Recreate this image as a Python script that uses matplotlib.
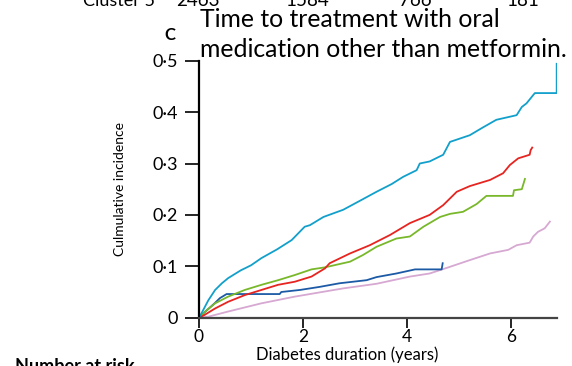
import matplotlib
matplotlib.use("Agg")
import matplotlib.pyplot as plt
import matplotlib.transforms as mtransforms

plt.rcParams['font.family'] = ['Lato', 'DejaVu Sans']

# ---- data ----
cyan_x = [0, 0.05, 0.18, 0.31, 0.44, 0.56, 0.8, 1.0, 1.2, 1.5, 1.78, 2.03, 2.13, 2.39, 2.77, 3.1,
          3.41, 3.7, 3.92, 4.18, 4.24, 4.43, 4.69, 4.82, 5.2, 5.45, 5.71, 6.1, 6.2, 6.29, 6.45, 6.87, 6.87]
cyan_y = [0, 0.009, 0.034, 0.054, 0.067, 0.077, 0.092, 0.102, 0.116, 0.133, 0.151, 0.177, 0.180, 0.196,
          0.21, 0.228, 0.245, 0.26, 0.274, 0.287, 0.300, 0.304, 0.317, 0.342, 0.355, 0.37, 0.385, 0.394,
          0.41, 0.417, 0.437, 0.437, 0.494]

red_x = [0, 0.1, 0.31, 0.56, 0.88, 1.2, 1.52, 1.84, 2.16, 2.42, 2.51, 2.9, 3.28, 3.67, 4.05, 4.43,
         4.69, 4.95, 5.2, 5.59, 5.84, 5.97, 6.13, 6.35, 6.37, 6.4]
red_y = [0, 0.005, 0.018, 0.031, 0.044, 0.054, 0.064, 0.070, 0.080, 0.096, 0.106, 0.125, 0.141, 0.161,
         0.184, 0.200, 0.219, 0.245, 0.256, 0.268, 0.281, 0.297, 0.31, 0.317, 0.326, 0.331]

green_x = [0, 0.12, 0.31, 0.56, 0.88, 1.2, 1.52, 1.84, 2.16, 2.42, 2.9, 3.15, 3.41, 3.79, 4.05, 4.31,
           4.63, 4.82, 5.07, 5.33, 5.52, 6.03, 6.05, 6.2, 6.26]
green_y = [0, 0.012, 0.028, 0.041, 0.054, 0.064, 0.073, 0.083, 0.094, 0.098, 0.109, 0.122, 0.138, 0.154,
           0.158, 0.177, 0.196, 0.202, 0.206, 0.221, 0.237, 0.237, 0.248, 0.25, 0.27]

blue_x = [0, 0.1, 0.3, 0.4, 0.53, 1.55, 1.58, 1.94, 2.32, 2.7, 3.22, 3.41, 3.79, 4.15, 4.66, 4.68]
blue_y = [0, 0.01, 0.028, 0.038, 0.046, 0.046, 0.05, 0.054, 0.06, 0.067, 0.073, 0.079, 0.086, 0.094,
          0.094, 0.106]

pink_x = [0, 0.18, 0.56, 1.2, 1.84, 2.42, 2.77, 3.41, 4.05, 4.43, 4.82, 5.2, 5.59, 5.94, 6.1, 6.35,
          6.42, 6.51, 6.64, 6.74]
pink_y = [0, 0.002, 0.012, 0.028, 0.041, 0.051, 0.057, 0.066, 0.080, 0.086, 0.099, 0.112, 0.125,
          0.132, 0.141, 0.146, 0.158, 0.167, 0.174, 0.187]

x_ticks = [0, 2, 4, 6]
y_ticks = [0, 0.1, 0.2, 0.3, 0.4, 0.5]
y_tick_labels = ['0', '0·1', '0·2', '0·3', '0·4', '0·5']
risk_label = 'Cluster 5'
risk_values = ['2463', '1584', '766', '181']
risk_x = [-0.03, 2.08, 4.15, 6.22]

W, H = 572, 366
fig = plt.figure(figsize=(W / 100, H / 100), dpi=100)
ax = fig.add_axes([199 / W, 1 - 317.7 / H, (556.7 - 199) / W, (317.7 - 60.7) / H])

lw = 1.3
ax.plot(pink_x, pink_y, color='#d6a8d2', lw=lw)
ax.plot(blue_x, blue_y, color='#1c5aa6', lw=lw)
ax.plot(green_x, green_y, color='#78b82a', lw=lw)
ax.plot(red_x, red_y, color='#e62420', lw=lw)
ax.plot(cyan_x, cyan_y, color='#12a0cb', lw=lw)

ax.set_xlim(0, 6.87)
ax.set_ylim(0, 0.5)
for s in ['top', 'right']:
    ax.spines[s].set_visible(False)
ax.spines['left'].set_linewidth(1.6)
ax.spines['bottom'].set_linewidth(1.6)
ax.spines['bottom'].set_color('#444444')
ax.set_xticks(x_ticks)
ax.set_xticklabels([str(v) for v in x_ticks])
ax.set_yticks(y_ticks)
ax.set_yticklabels(y_tick_labels)
ax.tick_params(axis='y', direction='out', length=10, width=1.2, labelsize=13, pad=5)
ax.tick_params(axis='x', direction='out', length=7, width=1.2, labelsize=12.5, pad=1)

ax.set_xlabel('Diabetes duration (years)', fontsize=12)
ax.xaxis.set_label_coords(0.415, -0.112)
ax.set_ylabel('Culmulative incidence', fontsize=10)
ax.yaxis.set_label_coords(-0.205, 0.5)

# panel letter & title
fig.text(170 / W, 1 - 35 / H, 'C', fontsize=12, fontweight='bold', ha='center', va='center')
fig.text(200 / W, 1 - 27 / H, 'Time to treatment with oral', fontsize=17.8, ha='left', va='baseline')
fig.text(200 / W, 1 - 57 / H, 'medication other than metformin.', fontsize=17.8, ha='left', va='baseline')

# number at risk table (clipped by figure edges)
trans = mtransforms.blended_transform_factory(ax.transData, fig.transFigure)
fig.text(83 / W, 1 - 6 / H, risk_label, fontsize=13, ha='left', va='baseline')
for xv, val in zip(risk_x, risk_values):
    ax.text(xv, 1 - 6 / H, val, transform=trans, fontsize=13.5, ha='center', va='baseline', clip_on=False)
fig.text(15 / W, 1 - 372 / H, 'Number at risk', fontsize=13, fontweight='bold', ha='left', va='baseline')

fig.savefig('out.png', dpi=100)
